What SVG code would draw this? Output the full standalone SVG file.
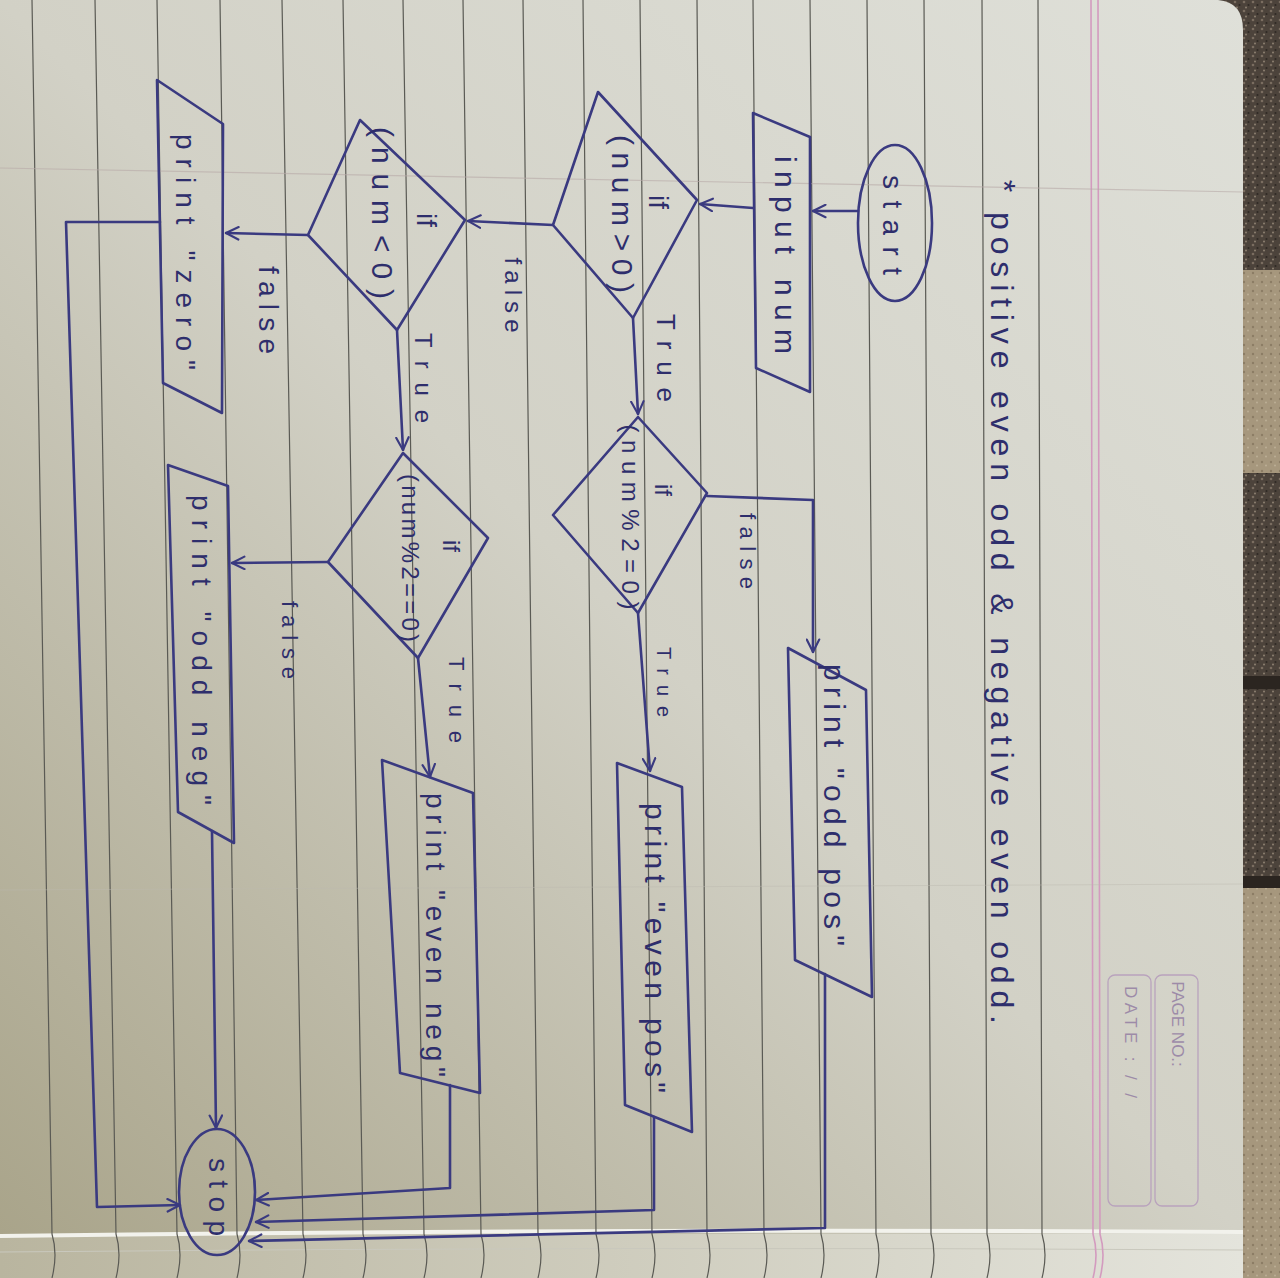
<svg xmlns="http://www.w3.org/2000/svg" width="1280" height="1278" viewBox="0 0 1280 1278">
  <defs>
    <linearGradient id="paper" x1="1" y1="0" x2="0" y2="1">
      <stop offset="0" stop-color="#dfe0d9"/>
      <stop offset="0.5" stop-color="#d2d1c6"/>
      <stop offset="1" stop-color="#a9a48a"/>
    </linearGradient>
    <linearGradient id="edge" x1="0" y1="0" x2="1" y2="0">
      <stop offset="0" stop-color="#b9b59f"/>
      <stop offset="1" stop-color="#e4e4dc"/>
    </linearGradient>
    <pattern id="speck" width="9" height="9" patternUnits="userSpaceOnUse">
      <rect width="9" height="9" fill="#4c433b"/>
      <circle cx="2" cy="2" r="1.3" fill="#7a6d60"/>
      <circle cx="6.5" cy="5" r="1.1" fill="#2f2924"/>
      <circle cx="4" cy="7.5" r="1" fill="#8c7f70"/>
    </pattern>
    <pattern id="speckTan" width="9" height="9" patternUnits="userSpaceOnUse">
      <rect width="9" height="9" fill="#a6977d"/>
      <circle cx="2" cy="3" r="1.2" fill="#8b7c64"/>
      <circle cx="6" cy="6.5" r="1" fill="#bcae95"/>
    </pattern>
    <marker id="arr" viewBox="0 0 12 12" refX="11" refY="6" markerWidth="15" markerHeight="15" markerUnits="userSpaceOnUse" orient="auto">
      <path d="M1,1 L11,6 L1,11" fill="none" stroke="#3a3a80" stroke-width="1.7" stroke-linecap="round"/>
    </marker>
    <style>
      .ink{fill:none;stroke:#3a3a80;stroke-width:2.6;stroke-linejoin:round;stroke-linecap:round}
      .rule{stroke:#5a5a54;stroke-width:1.2;fill:none}
      .pink{stroke:#d39bbf;stroke-width:1.6;fill:none}
      .t{font-family:"Liberation Sans","DejaVu Sans",sans-serif;fill:#2e2e6c;text-anchor:middle;dominant-baseline:central}
      .stamp{font-family:"Liberation Sans","DejaVu Sans",sans-serif;fill:#9d8ba8;font-size:17px;text-anchor:middle;dominant-baseline:central}
    </style>
  </defs>

  <!-- carpet behind the notebook -->
  <rect x="1200" y="0" width="80" height="1278" fill="url(#speck)"/>
  <rect x="1200" y="270" width="80" height="203" fill="url(#speckTan)"/>
  <rect x="1200" y="676" width="80" height="13" fill="#2b2520"/>
  <rect x="1200" y="876" width="80" height="12" fill="#2b2520"/>
  <rect x="1200" y="888" width="80" height="390" fill="url(#speckTan)"/>

  <!-- page -->
  <path d="M0,0 H1218 Q1243,2 1243,30 V1234 H0 Z" fill="url(#paper)"/>
  <!-- curled page edges at the binding -->
  <path d="M0,1234 H1243 V1278 H0 Z" fill="url(#edge)"/>
  <path d="M0,1236 Q620,1228 1243,1232" stroke="#f2f2ec" stroke-width="4" fill="none"/>
  <path d="M0,1252 Q620,1246 1243,1250" stroke="#c9c8bd" stroke-width="1" fill="none"/>

  <!-- ruled lines -->
  <g class="rule">
    <path d="M32,0 L52,1234 q6,20 0,44"/>
    <path d="M95,0 L116,1234 q6,20 0,44"/>
    <path d="M157,0 L177,1234 q6,20 0,44"/>
    <path d="M220,0 L237,1234 q6,20 0,44"/>
    <path d="M282,0 L303,1234 q6,20 0,44"/>
    <path d="M343,0 L363,1234 q6,20 0,44"/>
    <path d="M403,0 L424,1234 q6,20 0,44"/>
    <path d="M463,0 L481,1234 q6,20 0,44"/>
    <path d="M523,0 L538,1234 q6,20 0,44"/>
    <path d="M583,0 L596,1234 q6,20 0,44"/>
    <path d="M640,0 L652,1234 q6,20 0,44"/>
    <path d="M697,0 L707,1234 q6,20 0,44"/>
    <path d="M753,0 L764,1234 q6,20 0,44"/>
    <path d="M810,0 L821,1234 q6,20 0,44"/>
    <path d="M867,0 L876,1234 q6,20 0,44"/>
    <path d="M924,0 L931,1234 q6,20 0,44"/>
    <path d="M982,0 L987,1234 q6,20 0,44"/>
    <path d="M1038,0 L1042,1234 q6,20 0,44"/>
  </g>
  <!-- margin -->
  <g class="pink">
    <path d="M1091,0 L1093,1234 q6,20 0,44"/>
    <path d="M1098,0 L1100,1234 q6,20 0,44"/>
  </g>
  <!-- faint creases -->
  <path d="M0,168 L1243,192" stroke="#b8aaa8" stroke-width="1.2" opacity="0.6"/>
  <path d="M0,890 L1243,884" stroke="#bdbab0" stroke-width="1" opacity="0.45"/>

  <!-- printed page header boxes -->
  <g id="page-header">
    <rect x="1155" y="975" width="43" height="231" rx="7" fill="none" stroke="#b9a3bd" stroke-width="1.3"/>
    <rect x="1108" y="975" width="43" height="231" rx="7" fill="none" stroke="#b9a3bd" stroke-width="1.3"/>
    <text class="stamp" transform="translate(1177,1024) rotate(90)">PAGE NO.:</text>
    <text class="stamp" textLength="112" lengthAdjust="spacing" transform="translate(1130,1042) rotate(90)">DATE :   /   /</text>
  </g>

  <!-- title -->
  <g id="title">
    <text class="t" font-size="32" transform="translate(1004,186) rotate(90)">*</text>
    <text class="t" font-size="32" textLength="812" lengthAdjust="spacing" transform="translate(1002,618) rotate(90)">positive even odd &amp; negative even odd.</text>
  </g>

  <!-- connectors -->
  <g id="connectors" class="ink">
    <path d="M858,211 L813,211" marker-end="url(#arr)"/>
    <path d="M753,208 L700,204" marker-end="url(#arr)"/>
    <path d="M633,318 L638,414" marker-end="url(#arr)"/>
    <path d="M553,225 L468,221" marker-end="url(#arr)"/>
    <path d="M707,496 L813,500 L813,652" marker-end="url(#arr)"/>
    <path d="M638,613 L650,771" marker-end="url(#arr)"/>
    <path d="M308,235 L226,233" marker-end="url(#arr)"/>
    <path d="M397,330 L403,450" marker-end="url(#arr)"/>
    <path d="M328,562 L232,563" marker-end="url(#arr)"/>
    <path d="M418,658 L430,777" marker-end="url(#arr)"/>
    <path d="M825,974 L825,1228 L249,1241" marker-end="url(#arr)"/>
    <path d="M654,1117 L654,1210 L256,1222" marker-end="url(#arr)"/>
    <path d="M450,1085 L450,1188 L256,1200" marker-end="url(#arr)"/>
    <path d="M212,831 L216,1128" marker-end="url(#arr)"/>
    <path d="M160,222 L66,222 L97,1207 L180,1205" marker-end="url(#arr)"/>
  </g>

  <!-- edge labels -->
  <g id="labels">
    <text class="t" font-size="26" textLength="88" lengthAdjust="spacing" transform="translate(666,358) rotate(90)">True</text>
    <text class="t" font-size="24" textLength="75" lengthAdjust="spacing" transform="translate(513,295) rotate(90)">false</text>
    <text class="t" font-size="22" textLength="76" lengthAdjust="spacing" transform="translate(747,551) rotate(90)">false</text>
    <text class="t" font-size="20" textLength="70" lengthAdjust="spacing" transform="translate(664,682) rotate(90)">True</text>
    <text class="t" font-size="28" textLength="88" lengthAdjust="spacing" transform="translate(268,310) rotate(90)">false</text>
    <text class="t" font-size="24" textLength="90" lengthAdjust="spacing" transform="translate(423,378) rotate(90)">True</text>
    <text class="t" font-size="22" textLength="78" lengthAdjust="spacing" transform="translate(289,640) rotate(90)">false</text>
    <text class="t" font-size="22" textLength="86" lengthAdjust="spacing" transform="translate(456,700) rotate(90)">True</text>
  </g>

  <!-- nodes -->
  <g id="start">
    <ellipse class="ink" cx="895" cy="223" rx="37" ry="78"/>
    <text class="t" font-size="28" textLength="100" lengthAdjust="spacing" transform="translate(892,225) rotate(90)">start</text>
  </g>

  <g id="input-num">
    <polygon class="ink" points="753,113 810,137 810,392 756,368"/>
    <text class="t" font-size="30" textLength="198" lengthAdjust="spacing" transform="translate(785,255) rotate(90)">input num</text>
  </g>

  <g id="if-positive">
    <polygon class="ink" points="598,92 697,200 633,318 553,225"/>
    <text class="t" font-size="28" transform="translate(658,202) rotate(90)">if</text>
    <text class="t" font-size="30" textLength="158" lengthAdjust="spacing" transform="translate(622,214) rotate(90)">(num&gt;0)</text>
  </g>

  <g id="if-even-pos">
    <polygon class="ink" points="638,417 707,493 638,613 553,515"/>
    <text class="t" font-size="24" transform="translate(663,490) rotate(90)">if</text>
    <text class="t" font-size="24" textLength="185" lengthAdjust="spacing" transform="translate(630,517) rotate(90)">(num%2=0)</text>
  </g>

  <g id="print-odd-pos">
    <polygon class="ink" points="788,648 866,690 872,997 795,960"/>
    <text class="t" font-size="30" textLength="282" lengthAdjust="spacing" transform="translate(834,805) rotate(90)">print "odd pos"</text>
  </g>

  <g id="print-even-pos">
    <polygon class="ink" points="617,763 682,787 692,1132 625,1105"/>
    <text class="t" font-size="30" textLength="290" lengthAdjust="spacing" transform="translate(655,948) rotate(90)">print "even pos"</text>
  </g>

  <g id="if-negative">
    <polygon class="ink" points="360,120 465,220 397,330 308,235"/>
    <text class="t" font-size="28" transform="translate(426,220) rotate(90)">if</text>
    <text class="t" font-size="30" textLength="172" lengthAdjust="spacing" transform="translate(382,213) rotate(90)">(num&lt;0)</text>
  </g>

  <g id="print-zero">
    <polygon class="ink" points="157,80 223,124 222,413 163,383"/>
    <text class="t" font-size="28" textLength="236" lengthAdjust="spacing" transform="translate(185,252) rotate(90)">print "zero"</text>
  </g>

  <g id="if-even-neg">
    <polygon class="ink" points="403,453 488,538 418,658 328,562"/>
    <text class="t" font-size="24" transform="translate(451,546) rotate(90)">if</text>
    <text class="t" font-size="24" textLength="168" lengthAdjust="spacing" transform="translate(410,558) rotate(90)">(num%2==0)</text>
  </g>

  <g id="print-odd-neg">
    <polygon class="ink" points="168,465 228,486 234,843 178,812"/>
    <text class="t" font-size="28" textLength="310" lengthAdjust="spacing" transform="translate(201,650) rotate(90)">print "odd neg"</text>
  </g>

  <g id="print-even-neg">
    <polygon class="ink" points="382,760 473,793 480,1093 400,1073"/>
    <text class="t" font-size="28" textLength="284" lengthAdjust="spacing" transform="translate(435,935) rotate(90)">print "even neg"</text>
  </g>

  <g id="stop">
    <ellipse class="ink" cx="217" cy="1192" rx="38" ry="63"/>
    <text class="t" font-size="28" textLength="78" lengthAdjust="spacing" transform="translate(218,1197) rotate(90)">stop</text>
  </g>
</svg>
